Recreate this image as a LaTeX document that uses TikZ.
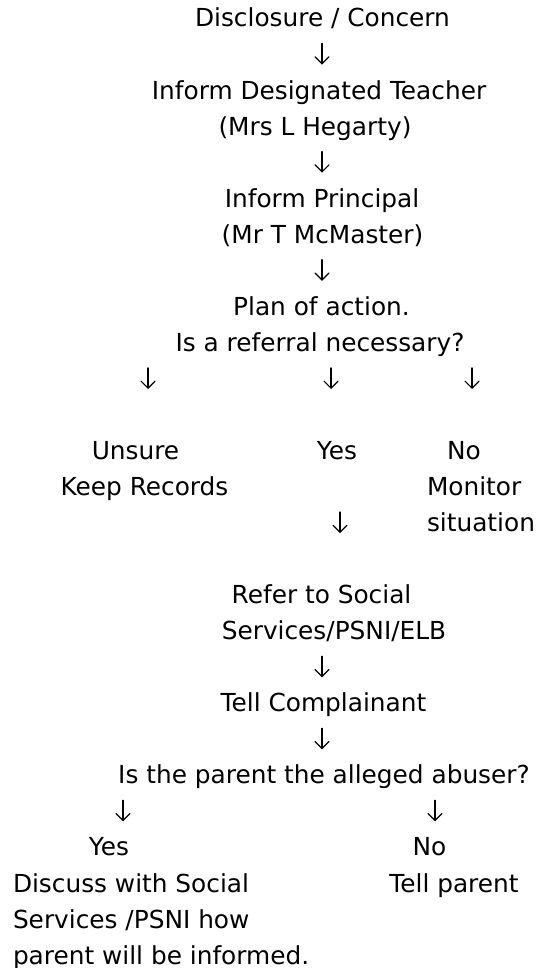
\documentclass[tikz,border=0pt]{standalone}
\usepackage{fontspec}
\setmainfont{DejaVu Sans}
\usetikzlibrary{arrows.meta}
\begin{document}
\begin{tikzpicture}[x=1pt,y=-1pt,
  line/.style={inner sep=0pt, outer sep=0pt, text height=21pt, text depth=3pt,
               font=\fontsize{24.8pt}{30pt}\selectfont},
  arr/.style={line width=1.2pt, line cap=round,
              -{Straight Barb[length=7pt,width=14pt,line cap=round]},
              shorten <=13.5pt, shorten >=13.5pt}]
\fill[white] (0,0) rectangle (539,968);
\useasboundingbox (0,0) rectangle (539,968);

% columns of the down arrows
\coordinate (cx) at (322,0);
\coordinate (cl) at (148,0);
\coordinate (cm) at (331,0);
\coordinate (cr) at (472,0);
\coordinate (cy) at (340,0);
\coordinate (bl) at (123,0);
\coordinate (br) at (435,0);

% main column
\node[line] (t0) at (322.5,18) {Disclosure / Concern};
\node[line] (t2) at (319,90.1) {Inform Designated Teacher};
\node[line] (t3) at (315,126.1) {(Mrs L Hegarty)};
\node[line] (t5) at (322,198.2) {Inform Principal};
\node[line] (t6) at (322.5,234.2) {(Mr T McMaster)};
\node[line] (t8) at (321.5,306.3) {Plan of action.};
\node[line] (t9) at (320,342.4) {Is a referral necessary?};

% three outcomes
\node[line] (unsure) at (135.5,450.5) {Unsure};
\node[line] (keep) at (144.5,486.5) {Keep Records};
\node[line] (yes) at (337,450.5) {Yes};
\node[line] (no) at (464,450.5) {No};
\node[line, anchor=west] (monitor) at (427,486.5) {Monitor};
\node[line, anchor=west] (situation) at (427,522.6) {situation};

% referral
\node[line] (refer) at (321.5,594.6) {Refer to Social};
\node[line] (services) at (334,630.7) {Services/PSNI/ELB};
\node[line] (tellc) at (323.5,702.8) {Tell Complainant};
\node[line] (abuser) at (324,774.8) {Is the parent the alleged abuser?};

% parent branches
\node[line] (yes2) at (109,846.9) {Yes};
\node[line] (no2) at (429.5,846.9) {No};
\node[line, anchor=west] (discuss) at (13,883) {Discuss with Social};
\node[line] (tellp) at (454,883) {Tell parent};
\node[line, anchor=west] (psni) at (13,919) {Services /PSNI how};
\node[line, anchor=west] (inf) at (13,955) {parent will be informed.};

% arrows
\draw[arr] (t0.south -| cx) -- (t2.north -| cx);
\draw[arr] (t3.south -| cx) -- (t5.north -| cx);
\draw[arr] (t6.south -| cx) -- (t8.north -| cx);
\draw[arr, shorten >=49.5pt] (t9.south -| cl) -- (unsure.north -| cl);
\draw[arr, shorten >=49.5pt] (t9.south -| cm) -- (yes.north -| cm);
\draw[arr, shorten >=49.5pt] (t9.south -| cr) -- (no.north -| cr);
\draw[arr, shorten <=49.5pt, shorten >=49.5pt] (yes.south -| cy) -- (refer.north -| cy);
\draw[arr] (services.south -| cx) -- (tellc.north -| cx);
\draw[arr] (tellc.south -| cx) -- (abuser.north -| cx);
\draw[arr] (abuser.south -| bl) -- (yes2.north -| bl);
\draw[arr] (abuser.south -| br) -- (no2.north -| br);
\end{tikzpicture}
\end{document}
